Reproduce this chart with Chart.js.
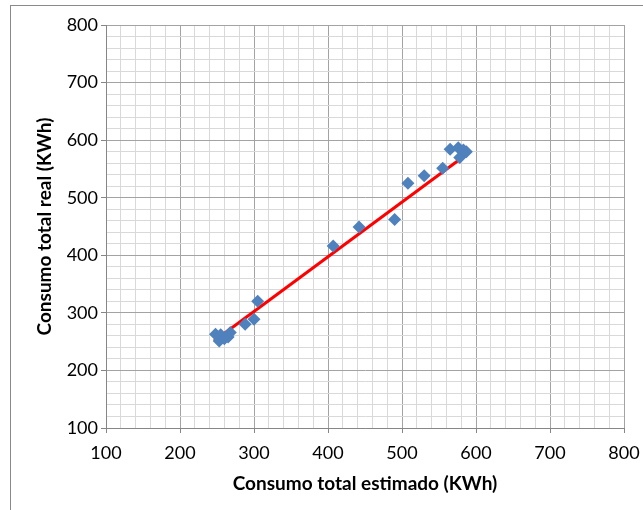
<!DOCTYPE html>
<html>
<head>
<meta charset="utf-8">
<script src="https://cdn.jsdelivr.net/npm/chart.js@4"></script>
<style>
  body { margin: 0; background: #fff; }
  #wrap { position: relative; width: 643px; height: 510px; overflow: hidden; }
  #frame { position: absolute; left: 10px; top: 5px; width: 700px; height: 600px; border: 1px solid #8a8a8a; }
  canvas { position: absolute; left: 0; top: 0; }
</style>
</head>
<body>
<div id="wrap">
  <div id="frame"></div>
  <canvas id="chart" width="643" height="510"></canvas>
</div>
<script>
// valores
const estimado = [248, 255, 253, 260, 265, 268, 288, 300, 305, 407, 442, 490, 508, 530, 555, 565, 576, 578, 583, 587];
const real     = [263, 262, 251, 255, 258, 266, 280, 289, 320, 416, 449, 462, 525, 538, 551, 584, 587, 570, 583, 580];

// línea de tendencia (extremos)
const tendenciaX = [246, 587];
const tendenciaY = [251, 575];

const ejeMin = 100;
const ejeMax = 800;

const puntos = estimado.map((x, i) => ({ x: x, y: real[i] }));
const tendencia = tendenciaX.map((x, i) => ({ x: x, y: tendenciaY[i] }));

const fuente = "Lato, 'Open Sans', sans-serif";

// rejilla: principal cada 100, secundaria cada 20
const colorRejilla = ctx => (ctx.tick && ctx.tick.value % 100 === 0) ? '#a3a3a3' : '#d9d9d9';
const colorMarca = ctx => (ctx.tick && ctx.tick.value % 100 === 0) ? '#868686' : 'rgba(0,0,0,0)';
const etiqueta = v => (v % 100 === 0 ? String(v) : '');

function eje(titulo, tituloPadding) {
    return {
        type: 'linear',
        min: ejeMin,
        max: ejeMax,
        border: { color: '#868686', width: 1 },
        grid: { color: colorRejilla, tickColor: colorMarca, tickLength: 5, lineWidth: 1 },
        ticks: {
            stepSize: 20,
            autoSkip: false,
            maxRotation: 0,
            color: '#000',
            font: { family: fuente, size: 18 },
            callback: etiqueta
        },
        title: {
            display: true,
            text: titulo,
            color: '#000',
            font: { family: fuente, size: 19, weight: 'bold' },
            padding: tituloPadding
        }
    };
}

const escalaX = eje('Consumo total estimado (KWh)', { top: 0, bottom: 15 });
escalaX.ticks.padding = 9;
escalaX.afterFit = s => { s.height = 82; s.paddingRight = 0; s.paddingLeft = 0; };

const escalaY = eje('Consumo total real (KWh)', { top: 33, bottom: 0 });
escalaY.ticks.padding = 3;
escalaY.afterFit = s => { s.width = 106; s.paddingTop = 0; s.paddingBottom = 0; };

new Chart(document.getElementById('chart').getContext('2d'), {
    type: 'scatter',
    data: {
        datasets: [
            {
                label: 'Tendencia',
                type: 'line',
                data: tendencia,
                borderColor: '#ff0000',
                borderWidth: 3,
                pointRadius: 0,
                fill: false,
                order: 2
            },
            {
                label: 'Consumo',
                data: puntos,
                pointStyle: 'rectRot',
                pointRadius: 6.5,
                pointBackgroundColor: '#4f81bd',
                pointBorderColor: '#4f81bd',
                pointBorderWidth: 0,
                order: 1
            }
        ]
    },
    options: {
        responsive: false,
        animation: false,
        layout: { padding: { top: 25, right: 19, left: 0, bottom: 0 } },
        plugins: { legend: { display: false }, tooltip: { enabled: false } },
        scales: { x: escalaX, y: escalaY }
    }
});
</script>
</body>
</html>
